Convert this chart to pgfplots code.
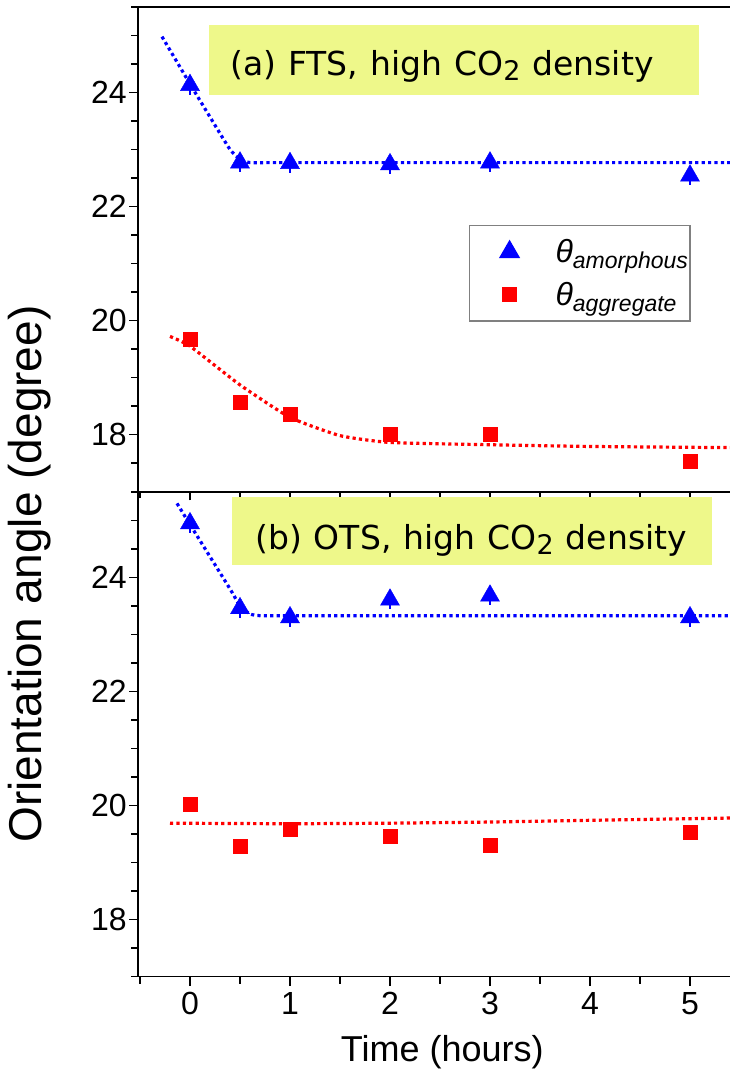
\documentclass[border=0pt]{standalone}
\usepackage{fontspec}
\setmainfont{Liberation Sans}
\newfontfamily\verd[WordSpace=1.15]{DejaVu Sans}
\usepackage{pgfplots}
\pgfplotsset{compat=1.18}
\definecolor{boxyellow}{RGB}{238,248,138}
\newcommand{\thsub}[1]{{\itshape\fontsize{32}{32}\selectfont θ\raisebox{-6pt}{\fontsize{23}{23}\selectfont #1}}}
\begin{document}
\begin{tikzpicture}
\useasboundingbox (0pt,0pt) rectangle (730pt,1074pt);
\pgfplotsset{
 panel/.style={
  scale only axis, width=592pt, height=484.5pt,
  xmin=-0.52, xmax=5.4, ymin=17, ymax=25.5,
  axis x line*=box, axis y line*=left,
  axis line style={line width=1.8pt, -},
  ytick={18,20,22,24}, minor ytick={17,17.5,...,25.5},
  xtick={0,1,2,3,4,5}, minor xtick={-0.5,0.5,...,5},
  tick align=outside, xtick pos=bottom, ytick pos=left,
  major tick length=9pt, minor tick length=7pt,
  every tick/.style={black, line width=1.5pt},
  /pgf/number format/assume math mode=true,
  ticklabel style={font=\fontsize{32}{32}\selectfont},
  yticklabel style={inner sep=2pt},
  xticklabel style={yshift=-3pt},
  clip=false,
 },
 amor/.style={blue, only marks, mark=triangle*, mark size=11pt,
   error bars/.cd, y dir=both, y explicit, error mark=none,
   error bar style={line width=1.8pt, blue}},
 aggr/.style={red, only marks, mark=square*, mark size=7pt, mark options={rounded corners=1.5pt}},
 fitb/.style={blue, line width=3.2pt, dash pattern=on 3.2pt off 3.2pt, smooth, tension=0.3, forget plot},
 fitr/.style={red, line width=3.2pt, dash pattern=on 3.2pt off 3.2pt, smooth, tension=0.3, forget plot},
}
% top panel
\begin{axis}[panel, at={(138pt,582.5pt)}, anchor=south west, xticklabels={},
  legend style={at={(0.559,0.55)}, anchor=north west, draw=black!50, line width=1.3pt,
    inner xsep=0pt, inner ysep=12pt, row sep=14pt, cells={anchor=west}},
  legend cell align=left,
  legend image code/.code={\path[draw=none,fill=none] (0pt,-5pt) rectangle (84pt,5pt); \draw[#1] plot coordinates {(40pt,0pt)};},
]
\addplot[fitb] coordinates {(-0.28,24.98) (0,24.15) (0.2,23.57) (0.4,23.0) (0.5,22.83) (0.6,22.77) (1,22.77) (5.4,22.77)};
\addplot[fitr] coordinates {(-0.2,19.72) (0,19.55) (0.5,18.87) (1,18.3) (1.5,17.98) (2,17.86) (3,17.82) (4,17.79) (5.4,17.77)};
\addplot[amor] coordinates {(0,24.13) +- (0,0.17) (0.5,22.77) +- (0,0.17) (1,22.76) +- (0,0.17) (2,22.74) +- (0,0.17) (3,22.77) +- (0,0.17) (5,22.54) +- (0,0.17)};
\addlegendentry{\thsub{amorphous}\hspace{26pt}}
\addplot[aggr] coordinates {(0,19.67) (0.5,18.56) (1,18.36) (2,18.01) (3,18.0) (5,17.53)};
\addlegendentry{\thsub{aggregate}}
\end{axis}
% bottom panel
\begin{axis}[panel, at={(138pt,97.5pt)}, anchor=south west,
  xlabel={Time (hours)},
  xlabel style={font=\fontsize{36}{36}\selectfont, at={(axis description cs:0.514,-0.156)}, anchor=center},
]
\addplot[fitb] coordinates {(-0.13,25.3) (0,24.93) (0.4,23.8) (0.5,23.5) (0.6,23.36) (0.7,23.33) (1,23.33) (5.4,23.33)};
\addplot[fitr] coordinates {(-0.2,19.69) (1,19.68) (2,19.69) (3,19.71) (4,19.74) (5.4,19.78)};
\addplot[amor] coordinates {(0,24.95) +- (0,0.17) (0.5,23.46) +- (0,0.17) (1,23.30) +- (0,0.17) (2,23.61) +- (0,0.17) (3,23.68) +- (0,0.17) (5,23.30) +- (0,0.17)};
\addplot[aggr] coordinates {(0,20.02) (0.5,19.28) (1,19.58) (2,19.47) (3,19.30) (5,19.54)};
\end{axis}
% annotation boxes
\fill[boxyellow] (209pt,979.4pt) rectangle (698.5pt,1049pt);
\node[anchor=base west, inner sep=0pt, font=\verd\fontsize{33}{33}\selectfont] at (230pt,998pt) {(a) FTS, high CO\raisebox{-5pt}{\fontsize{27}{27}\selectfont 2} density};
\fill[boxyellow] (232pt,509pt) rectangle (712pt,577pt);
\node[anchor=base west, inner sep=0pt, font=\verd\fontsize{33}{33}\selectfont] at (255pt,524pt) {(b) OTS, high CO\raisebox{-5pt}{\fontsize{27}{27}\selectfont 2} density};
% y label
\node[rotate=90, font=\fontsize{46}{46}\selectfont] at (30pt,500pt) {Orientation angle (degree)};
\end{tikzpicture}
\end{document}
